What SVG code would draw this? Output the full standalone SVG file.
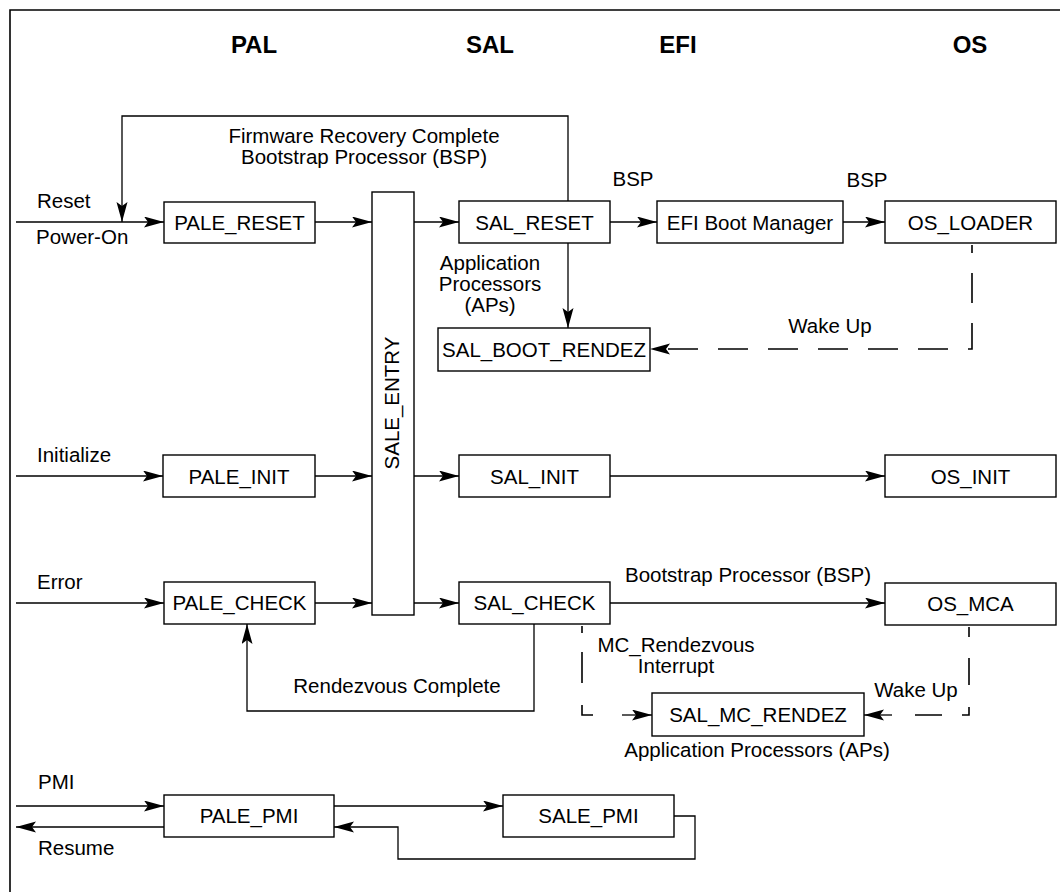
<svg xmlns="http://www.w3.org/2000/svg" width="1060" height="892" viewBox="0 0 1060 892">
<style>
text{font-family:"Liberation Sans",Arial,sans-serif;font-size:20.5px;fill:#000}
.t{font-weight:bold;font-size:24px;text-anchor:middle}
.c{text-anchor:middle}
.box{fill:#fff;stroke:#000;stroke-width:1.4}
.ln{fill:none;stroke:#000;stroke-width:1.3}
.d{fill:none;stroke:#000;stroke-width:1.6}
</style>
<defs>
<marker id="ah" markerUnits="userSpaceOnUse" markerWidth="21" markerHeight="12" refX="20" refY="5.5" orient="auto">
<path d="M0,0 L20,5.5 L0,11 L4,5.5 Z" fill="#000"/>
</marker>
</defs>
<rect width="1060" height="892" fill="#fff"/>
<path d="M10,892 V10 H1060" fill="none" stroke="#000" stroke-width="1.6"/>
<g id="titles">
<text class="t" x="254" y="53">PAL</text>
<text class="t" x="490" y="53">SAL</text>
<text class="t" x="678" y="53">EFI</text>
<text class="t" x="970" y="53">OS</text>
</g>
<g id="connectors">
<path class="ln" d="M568,201 V116 H122 V222" marker-end="url(#ah)"/>
<path class="ln" d="M16,222 H164" marker-end="url(#ah)"/>
<path class="ln" d="M315,222 H372" marker-end="url(#ah)"/>
<path class="ln" d="M414,222 H459" marker-end="url(#ah)"/>
<path class="ln" d="M610,222 H657" marker-end="url(#ah)"/>
<path class="ln" d="M843,222 H885" marker-end="url(#ah)"/>
<path class="ln" d="M568,243 V328" marker-end="url(#ah)"/>
<path class="d" d="M972,245 V349 H650" stroke-dasharray="30 20" stroke-dashoffset="22" marker-end="url(#ah)"/>
<path class="ln" d="M16,476 H163" marker-end="url(#ah)"/>
<path class="ln" d="M315,476 H372" marker-end="url(#ah)"/>
<path class="ln" d="M414,476 H459" marker-end="url(#ah)"/>
<path class="ln" d="M610,476 H885" marker-end="url(#ah)"/>
<path class="ln" d="M16,603 H164" marker-end="url(#ah)"/>
<path class="ln" d="M315,603 H372" marker-end="url(#ah)"/>
<path class="ln" d="M414,603 H459" marker-end="url(#ah)"/>
<path class="ln" d="M610,603 H885" marker-end="url(#ah)"/>
<path class="ln" d="M534,624 V711 H247 V624" marker-end="url(#ah)"/>
<path class="d" d="M582,626 V633 M582,652 V683 M582,705 V715 H593"/>
<path class="ln" d="M622,715 H652" marker-end="url(#ah)"/>
<path class="d" d="M969,627 V637 M969,658 V685 M969,707 V715 H962 M942,715 H915"/>
<path class="ln" d="M892,715 H864" marker-end="url(#ah)"/>
<path class="ln" d="M16,806 H164" marker-end="url(#ah)"/>
<path class="ln" d="M164,827 H16" marker-end="url(#ah)"/>
<path class="ln" d="M334,806 H503" marker-end="url(#ah)"/>
<path class="ln" d="M674,816 H695 V859 H398 V827 H334" marker-end="url(#ah)"/>
</g>
<g id="labels">
<text class="c" x="364" y="143">Firmware Recovery Complete</text>
<text class="c" x="364" y="164">Bootstrap Processor (BSP)</text>
<text x="37" y="208">Reset</text>
<text x="36" y="244">Power-On</text>
<text class="c" x="633" y="186">BSP</text>
<text class="c" x="867" y="187">BSP</text>
<text class="c" x="490" y="270">Application</text>
<text class="c" x="490" y="291">Processors</text>
<text class="c" x="490" y="312">(APs)</text>
<text class="c" x="830" y="333">Wake Up</text>
<text x="37" y="462">Initialize</text>
<text x="37" y="589">Error</text>
<text class="c" x="748" y="582">Bootstrap Processor (BSP)</text>
<text class="c" x="397" y="693">Rendezvous Complete</text>
<text class="c" x="676" y="652">MC_Rendezvous</text>
<text class="c" x="676" y="673">Interrupt</text>
<text class="c" x="916" y="697">Wake Up</text>
<text class="c" x="757" y="757">Application Processors (APs)</text>
<text x="38" y="789">PMI</text>
<text x="38" y="855">Resume</text>
</g>
<g id="pale_reset"><rect class="box" x="164" y="202" width="151" height="41"/><text class="c" x="239.5" y="230">PALE_RESET</text></g>
<g id="sale_entry"><rect class="box" x="372" y="192" width="42" height="423"/><text class="c" transform="translate(392,403) rotate(-90)" y="7">SALE_ENTRY</text></g>
<g id="sal_reset"><rect class="box" x="459" y="201" width="151" height="42"/><text class="c" x="534.5" y="230">SAL_RESET</text></g>
<g id="efi_boot_manager"><rect class="box" x="657" y="201" width="186" height="42"/><text class="c" x="750" y="230">EFI Boot Manager</text></g>
<g id="os_loader"><rect class="box" x="885" y="201" width="171" height="42"/><text class="c" x="970.5" y="230">OS_LOADER</text></g>
<g id="sal_boot_rendez"><rect class="box" x="438" y="328" width="212" height="43"/><text class="c" x="544" y="357">SAL_BOOT_RENDEZ</text></g>
<g id="pale_init"><rect class="box" x="163" y="455" width="152" height="42"/><text class="c" x="239" y="484">PALE_INIT</text></g>
<g id="sal_init"><rect class="box" x="459" y="455" width="151" height="42"/><text class="c" x="534.5" y="484">SAL_INIT</text></g>
<g id="os_init"><rect class="box" x="885" y="455" width="171" height="42"/><text class="c" x="970.5" y="484">OS_INIT</text></g>
<g id="pale_check"><rect class="box" x="164" y="582" width="151" height="42"/><text class="c" x="239.5" y="610">PALE_CHECK</text></g>
<g id="sal_check"><rect class="box" x="459" y="582" width="151" height="42"/><text class="c" x="534.5" y="610">SAL_CHECK</text></g>
<g id="os_mca"><rect class="box" x="885" y="583" width="171" height="42"/><text class="c" x="970.5" y="611">OS_MCA</text></g>
<g id="sal_mc_rendez"><rect class="box" x="652" y="693" width="212" height="43"/><text class="c" x="758" y="722">SAL_MC_RENDEZ</text></g>
<g id="pale_pmi"><rect class="box" x="164" y="795" width="170" height="42"/><text class="c" x="249" y="823">PALE_PMI</text></g>
<g id="sale_pmi"><rect class="box" x="503" y="795" width="171" height="42"/><text class="c" x="588.5" y="823">SALE_PMI</text></g>
</svg>
